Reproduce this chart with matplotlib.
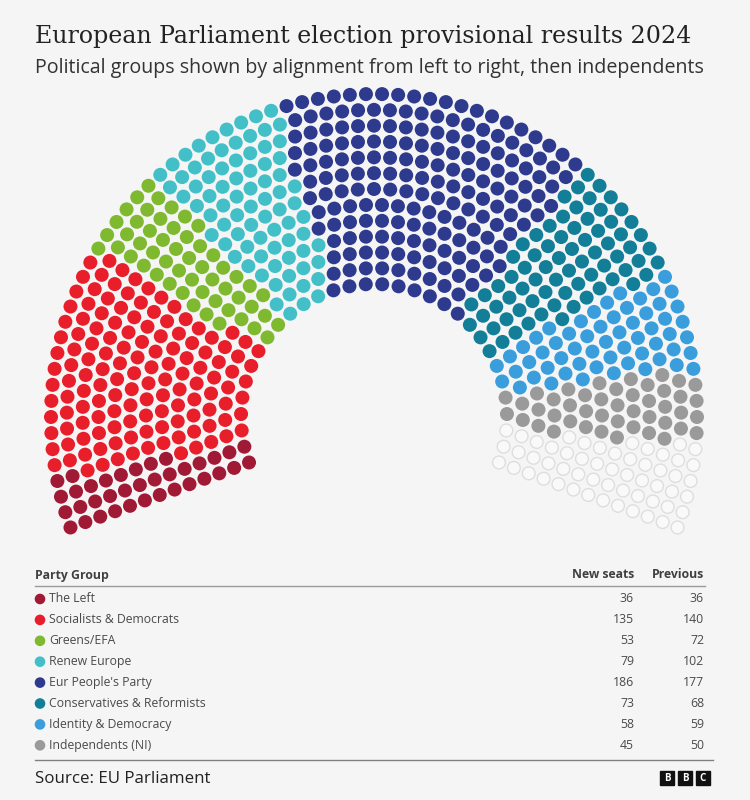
import numpy as np
import matplotlib
matplotlib.use('Agg')
import matplotlib.pyplot as plt
from matplotlib.patches import Circle, Rectangle
from matplotlib.collections import PatchCollection

# ---------------- data ----------------
groups = ['The Left', 'Socialists & Democrats', 'Greens/EFA', 'Renew Europe',
          "Eur People's Party", 'Conservatives & Reformists',
          'Identity & Democracy', 'Independents (NI)']
new_seats = [36, 135, 53, 79, 186, 73, 58, 45]
previous = [36, 140, 72, 102, 177, 68, 59, 50]
colors = ['#a11a35', '#e81e2b', '#7fb92f', '#43bfc8', '#2e3a8e',
          '#137e98', '#3a9edc', '#9a9a9a']
TOTAL_SEATS = 720

TITLE = 'European Parliament election provisional results 2024'
SUBTITLE = 'Political groups shown by alignment from left to right, then independents'
SOURCE = 'Source: EU Parliament'

# ---------------- layout (pixels) ----------------
W, H = 750, 800
BG = '#f5f5f5'
CX, CY = 374, 417
R_IN, R_OUT = 133, 323
N_ROWS = 13
ANG0, ANG1 = np.radians(200), np.radians(-20)
DOT_R = 7.0

SANS = ['Open Sans', 'DejaVu Sans']
SERIF = ['DejaVu Serif']


def hemicycle(total, n_rows, r_in, r_out):
    radii = np.linspace(r_in, r_out, n_rows)
    share = radii / radii.sum() * total
    n = np.floor(share).astype(int)
    rest = total - n.sum()
    n[np.argsort(-(share - n))[:rest]] += 1
    seats = []
    for r, k in zip(radii, n):
        for j in range(k):
            t = j / (k - 1)
            seats.append((t, r))
    seats.sort(key=lambda s: (s[0], s[1]))
    return seats


fig = plt.figure(figsize=(W / 100, H / 100), dpi=100, facecolor=BG)
ax = fig.add_axes([0, 0, 1, 1])
ax.set_xlim(0, W)
ax.set_ylim(H, 0)
ax.set_facecolor(BG)
ax.axis('off')

# seat colours in order, remaining seats left empty
seat_cols = []
for c, n in zip(colors, new_seats):
    seat_cols += [c] * n
seat_cols += [None] * (TOTAL_SEATS - len(seat_cols))

filled, empty = [], []
for (t, r), c in zip(hemicycle(TOTAL_SEATS, N_ROWS, R_IN, R_OUT), seat_cols):
    a = ANG0 + t * (ANG1 - ANG0)
    x, y = CX + r * np.cos(a), CY - r * np.sin(a)
    if c is None:
        empty.append(Circle((x, y), DOT_R - 0.6))
    else:
        filled.append((Circle((x, y), DOT_R), c))

ax.add_collection(PatchCollection([p for p, _ in filled],
                                  facecolors=[c for _, c in filled],
                                  edgecolors='none'))
ax.add_collection(PatchCollection(empty, facecolor='#f9f9f9',
                                  edgecolor='#dedede', linewidth=1.0))

# ---------------- titles ----------------
ax.text(35, 36, TITLE, fontsize=17.1, family=SERIF, color='#222222',
        va='center', ha='left')
ax.text(35, 68, SUBTITLE, fontsize=14.1, family=SANS, color='#333333',
        va='center', ha='left')

# ---------------- table ----------------
FS = 8.8
ax.text(35, 575, 'Party Group', fontsize=FS, family=SANS, weight='bold',
        color='#404040', va='center')
ax.text(634, 575, 'New seats', fontsize=FS, family=SANS, weight='bold',
        color='#404040', va='center', ha='right')
ax.text(704, 575, 'Previous', fontsize=FS, family=SANS, weight='bold',
        color='#404040', va='center', ha='right')
ax.plot([35, 705], [586, 586], color='#9a9a9a', lw=1)

for i, (g, n, p, c) in enumerate(zip(groups, new_seats, previous, colors)):
    y = 599 + i * 20.9
    ax.add_patch(Circle((40, y), 4.6, color=c))
    ax.text(49, y, g, fontsize=FS, family=SANS, color='#4a4a4a', va='center')
    ax.text(634, y, str(n), fontsize=FS, family=SANS, color='#4a4a4a',
            va='center', ha='right')
    ax.text(704, y, str(p), fontsize=FS, family=SANS, color='#4a4a4a',
            va='center', ha='right')

ax.plot([35, 713], [760, 760], color='#808080', lw=1)

# ---------------- footer ----------------
ax.text(35, 779, SOURCE, fontsize=12.2, family=SANS, color='#222222',
        va='center')
for k, ch in enumerate('BBC'):
    x0 = 660 + k * 18
    ax.add_patch(Rectangle((x0, 771), 14, 14, color='#111111'))
    ax.text(x0 + 7, 778.3, ch, fontsize=7, family=SANS, weight='bold',
            color='white', ha='center', va='center')

fig.savefig('out.png', dpi=100, facecolor=BG)
